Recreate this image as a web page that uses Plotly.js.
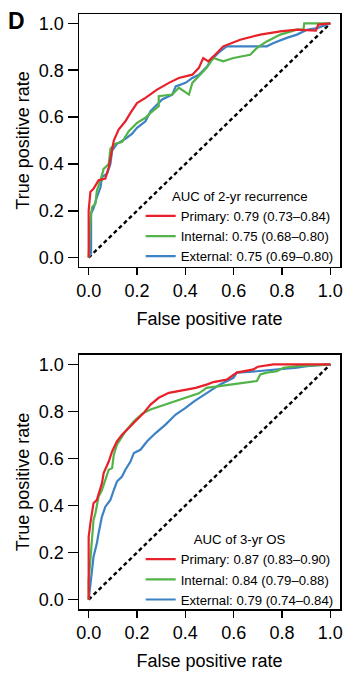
<!DOCTYPE html>
<html>
<head>
<meta charset="utf-8">
<script src="https://cdn.plot.ly/plotly-3.0.1.min.js"></script>
<style>html,body{margin:0;padding:0;background:#fff;}#chart{width:348px;height:690px;}</style>
</head>
<body>
<div id="chart"></div>
<script>
// ---------- Data ----------
// Panel 1: AUC of 2-yr recurrence
const recLegendTitle = 'AUC of 2-yr recurrence';
const recLabels = ['Primary: 0.79 (0.73\u20130.84)', 'Internal: 0.75 (0.68\u20130.80)', 'External: 0.75 (0.69\u20130.80)'];

const recPrimaryFPR = [0,0,0.007,0.02,0.041,0.069,0.083,0.09,0.097,0.104,0.124,0.152,0.173,0.2,0.235,0.283,0.332,0.373,0.429,0.456,0.474,0.495,0.516,0.557,0.627,0.71,0.793,0.862,0.94,0.95,1];
const recPrimaryTPR = [0,0.2,0.28,0.294,0.33,0.337,0.386,0.429,0.471,0.5,0.547,0.582,0.618,0.66,0.682,0.717,0.746,0.767,0.781,0.81,0.852,0.838,0.859,0.902,0.93,0.952,0.966,0.973,0.969,0.995,1];

const recInternalFPR = [0,0.007,0.014,0.028,0.034,0.049,0.062,0.083,0.09,0.11,0.138,0.166,0.2,0.235,0.256,0.29,0.29,0.346,0.373,0.415,0.429,0.456,0.488,0.516,0.557,0.599,0.668,0.696,0.737,0.793,0.862,0.889,0.892,1];
const recInternalTPR = [0,0.16,0.216,0.23,0.287,0.33,0.379,0.4,0.465,0.486,0.493,0.54,0.575,0.597,0.618,0.646,0.689,0.696,0.725,0.696,0.746,0.774,0.81,0.852,0.838,0.852,0.866,0.895,0.923,0.952,0.973,0.975,1,1];

const recExternalFPR = [0,0.01,0.01,0.02,0.034,0.049,0.055,0.076,0.09,0.097,0.117,0.152,0.18,0.2,0.235,0.256,0.304,0.346,0.36,0.401,0.429,0.456,0.491,0.502,0.544,0.571,0.737,0.765,0.82,0.862,0.903,0.945,1];
const recExternalTPR = [0,0.02,0.19,0.209,0.258,0.3,0.344,0.358,0.4,0.457,0.486,0.507,0.529,0.554,0.582,0.625,0.675,0.696,0.731,0.746,0.767,0.781,0.817,0.838,0.881,0.902,0.902,0.916,0.938,0.952,0.973,0.98,1];

// Panel 2: AUC of 3-yr OS
const osLegendTitle = 'AUC of 3-yr OS';
const osLabels = ['Primary: 0.87 (0.83\u20130.90)', 'Internal: 0.84 (0.79\u20130.88)', 'External: 0.79 (0.74\u20130.84)'];

const osPrimaryFPR = [0,0,0,0.007,0.014,0.02,0.034,0.041,0.055,0.062,0.069,0.083,0.097,0.117,0.138,0.166,0.194,0.228,0.256,0.29,0.332,0.387,0.443,0.491,0.516,0.571,0.613,0.682,0.7,0.765,1];
const osPrimaryTPR = [0,0.15,0.267,0.324,0.367,0.41,0.424,0.452,0.495,0.538,0.552,0.587,0.63,0.673,0.701,0.73,0.758,0.794,0.829,0.858,0.879,0.89,0.9,0.915,0.925,0.935,0.965,0.979,0.99,1,1];

const osInternalFPR = [0,0,0.007,0.014,0.02,0.028,0.034,0.041,0.055,0.069,0.083,0.097,0.104,0.117,0.152,0.187,0.221,0.256,0.304,0.36,0.415,0.456,0.488,0.544,0.599,0.64,0.696,0.71,0.737,0.779,0.806,0.862,0.958,1];
const osInternalTPR = [0,0.08,0.168,0.267,0.338,0.367,0.41,0.438,0.466,0.509,0.552,0.559,0.616,0.659,0.715,0.758,0.79,0.808,0.825,0.845,0.862,0.877,0.9,0.907,0.915,0.922,0.929,0.957,0.965,0.971,0.986,0.993,0.997,1];

const osExternalFPR = [0,0.007,0.014,0.02,0.034,0.041,0.049,0.055,0.069,0.09,0.104,0.117,0.138,0.152,0.173,0.187,0.214,0.242,0.277,0.318,0.36,0.401,0.436,0.47,0.502,0.544,0.599,0.613,0.696,0.806,0.862,0.903,0.958,1];
const osExternalTPR = [0,0.054,0.125,0.182,0.239,0.282,0.324,0.353,0.395,0.424,0.466,0.502,0.523,0.552,0.587,0.623,0.637,0.673,0.708,0.744,0.787,0.815,0.843,0.865,0.886,0.915,0.943,0.965,0.971,0.979,0.986,0.993,0.998,1];

const diagX = [0, 1];
const diagY = [0, 1];
const tickVals = [0, 0.2, 0.4, 0.6, 0.8, 1.0];
const xTitle = 'False positive rate';
const yTitle = 'True positive rate';
const panelLabel = 'D';

// ---------- Styles ----------
const RED = '#E8202A', GREEN = '#52B448', BLUE = '#3C82C4';
const FONT = 'Liberation Sans, Arial, sans-serif';
const LW = 2.2;

function curve(x, y, color, name, xa, ya, legend) {
  return {x: x, y: y, type: 'scatter', mode: 'lines', name: name,
          line: {color: color, width: LW}, xaxis: xa, yaxis: ya, legend: legend, hoverinfo: 'skip'};
}
function diag(xa, ya) {
  return {x: diagX, y: diagY, type: 'scatter', mode: 'lines', showlegend: false,
          line: {color: '#000', width: 2.4, dash: '4px,3px'}, xaxis: xa, yaxis: ya, hoverinfo: 'skip'};
}

const data = [
  diag('x', 'y'),
  curve(recExternalFPR, recExternalTPR, BLUE, recLabels[2], 'x', 'y', 'legend'),
  curve(recInternalFPR, recInternalTPR, GREEN, recLabels[1], 'x', 'y', 'legend'),
  curve(recPrimaryFPR, recPrimaryTPR, RED, recLabels[0], 'x', 'y', 'legend'),
  diag('x2', 'y2'),
  curve(osExternalFPR, osExternalTPR, BLUE, osLabels[2], 'x2', 'y2', 'legend2'),
  curve(osInternalFPR, osInternalTPR, GREEN, osLabels[1], 'x2', 'y2', 'legend2'),
  curve(osPrimaryFPR, osPrimaryTPR, RED, osLabels[0], 'x2', 'y2', 'legend2')
];

function xax(anchor) {
  return {anchor: anchor, domain: [0, 1], range: [-0.04, 1.04], tickvals: tickVals, tickformat: '.1f',
    ticks: 'outside', ticklen: 7, tickwidth: 1.5, tickcolor: '#000',
    showline: true, linecolor: '#000', linewidth: 1.5, mirror: true, showgrid: false, zeroline: false,
    tickfont: {family: FONT, size: 18, color: '#000'},
    title: {text: xTitle, font: {family: FONT, size: 18, color: '#000'}, standoff: 12}};
}
function yax(anchor, dom) {
  return {anchor: anchor, domain: dom, range: [-0.04, 1.04], tickvals: tickVals, tickformat: '.1f',
    ticks: 'outside', ticklen: 10, tickwidth: 1.5, tickcolor: '#000',
    showline: true, linecolor: '#000', linewidth: 1.5, mirror: true, showgrid: false, zeroline: false,
    tickfont: {family: FONT, size: 18, color: '#000'},
    title: {text: yTitle, font: {family: FONT, size: 18, color: '#000'}, standoff: 4}};
}
function leg(y, title) {
  return {x: 0.995, xanchor: 'right', y: y, yanchor: 'bottom', bgcolor: 'rgba(0,0,0,0)',
    traceorder: 'reversed', font: {family: FONT, size: 13.2, color: '#000'},
    title: {text: title, side: 'top center', font: {family: FONT, size: 13.2, color: '#000'}},
    itemwidth: 30};
}

const layout = {
  width: 348, height: 690,
  margin: {l: 79, r: 8, t: 14, b: 81},
  paper_bgcolor: '#fff', plot_bgcolor: '#fff',
  font: {family: FONT, color: '#000'},
  xaxis: xax('y'),
  yaxis: yax('x', [0.5748, 1]),
  xaxis2: xax('y2'),
  yaxis2: yax('x2', [0, 0.4269]),
  legend: leg(0.567, recLegendTitle),
  legend2: leg(-0.01, osLegendTitle),
  annotations: [{text: '<b>' + panelLabel + '</b>', xref: 'paper', yref: 'paper',
    x: -0.278, y: 0.989, xanchor: 'left', yanchor: 'middle', showarrow: false,
    font: {family: FONT, size: 23, color: '#000'}}]
};

Plotly.newPlot('chart', data, layout, {displayModeBar: false, staticPlot: true});
</script>
</body>
</html>
